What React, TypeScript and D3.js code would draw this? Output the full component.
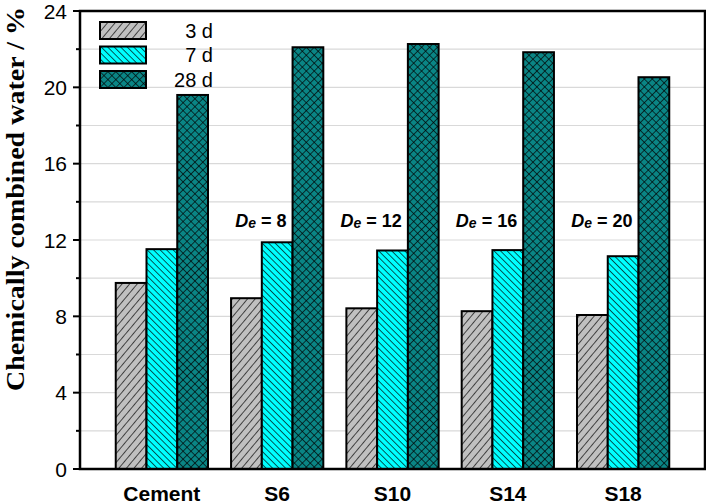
import * as d3 from "d3";

const categories = ["Cement", "S6", "S10", "S14", "S18"];
const seriesNames = ["3 d", "7 d", "28 d"];
const values3d = [9.75, 8.95, 8.42, 8.27, 8.07];
const values7d = [11.52, 11.88, 11.45, 11.47, 11.15];
const values28d = [19.6, 22.1, 22.27, 21.84, 20.53];
const deLabels = ["", "8", "12", "16", "20"];
const yMajorTicks = [0, 4, 8, 12, 16, 20, 24];
const yMinorTicks = [2, 6, 10, 14, 18, 22];
const gridValues = [2, 4, 6, 8, 10, 12, 14, 16, 18, 20, 22];

const W = 706;
const H = 504;
const margin = { top: 11, right: 1, bottom: 35, left: 80 };
const innerW = W - margin.left - margin.right;
const innerH = H - margin.top - margin.bottom;

const patternIds = ["hatch3", "hatch7", "hatch28"];

export default function App() {
  const allSeries = [values3d, values7d, values28d];

  const x = d3
    .scaleBand<string>()
    .domain(categories)
    .range([0, innerW])
    .paddingInner(0.2)
    .paddingOuter(0.31);

  const xSub = d3
    .scaleBand<string>()
    .domain(seriesNames)
    .range([0, x.bandwidth()]);

  const y = d3.scaleLinear().domain([0, 24]).range([innerH, 0]);

  const sans = "'Liberation Sans', Arial, sans-serif";

  return (
    <svg
      width={W}
      height={H}
      style={{ position: "absolute", left: 0, top: 0, background: "#fff" }}
    >
      <defs>
        <pattern
          id="hatch3"
          patternUnits="userSpaceOnUse"
          width={5.8}
          height={10}
          patternTransform="rotate(40)"
        >
          <rect width={5.8} height={10} fill="#c0c0c0" />
          <line x1={0} y1={0} x2={0} y2={10} stroke="#000" strokeWidth={1.3} />
        </pattern>
        <pattern
          id="hatch7"
          patternUnits="userSpaceOnUse"
          width={4.6}
          height={10}
          patternTransform="rotate(-45)"
        >
          <rect width={4.6} height={10} fill="#00ffff" />
          <line x1={0} y1={0} x2={0} y2={10} stroke="#000" strokeWidth={1.3} />
        </pattern>
        <pattern
          id="hatch28"
          patternUnits="userSpaceOnUse"
          width={5.6}
          height={5.6}
          patternTransform="rotate(45)"
        >
          <rect width={5.6} height={5.6} fill="#0a8585" />
          <line x1={0} y1={0} x2={0} y2={5.6} stroke="#000" strokeWidth={1.3} />
          <line x1={0} y1={0} x2={5.6} y2={0} stroke="#000" strokeWidth={1.3} />
        </pattern>
      </defs>

      <g transform={`translate(${margin.left},${margin.top})`}>
        {/* gridlines */}
        {gridValues.map(v => (
          <line
            key={"g" + v}
            x1={0}
            x2={innerW}
            y1={y(v)}
            y2={y(v)}
            stroke="#d9d9d9"
            strokeWidth={1.2}
          />
        ))}

        {/* bars */}
        {categories.map((c, i) => (
          <g key={c} transform={`translate(${x(c)},0)`}>
            {allSeries.map((vals, s) => (
              <rect
                key={s}
                x={xSub(seriesNames[s])}
                y={y(vals[i])}
                width={xSub.bandwidth()}
                height={innerH - y(vals[i])}
                fill={`url(#${patternIds[s]})`}
                stroke="#000"
                strokeWidth={2}
              />
            ))}
          </g>
        ))}

        {/* De annotations */}
        {categories.map((c, i) =>
          deLabels[i] ? (
            <text
              key={"de" + c}
              x={(x(c) ?? 0) + (xSub("28 d") ?? 0) - 6}
              y={y(12) - 13}
              textAnchor="end"
              fontFamily={sans}
              fontWeight="bold"
              fontSize={18}
            >
              <tspan fontStyle="italic">D</tspan>
              <tspan fontStyle="italic" fontSize={14} dy={1}>
                e
              </tspan>
              <tspan dy={-1}>{` = ${deLabels[i]}`}</tspan>
            </text>
          ) : null
        )}

        {/* frame */}
        <rect
          x={0}
          y={0}
          width={innerW}
          height={innerH}
          fill="none"
          stroke="#000"
          strokeWidth={2.5}
        />

        {/* y ticks */}
        {yMajorTicks.map(v => (
          <g key={"t" + v}>
            <line x1={-7} x2={0} y1={y(v)} y2={y(v)} stroke="#000" strokeWidth={2} />
            <text
              x={-13}
              y={y(v)}
              dy="0.36em"
              textAnchor="end"
              fontFamily={sans}
              fontSize={21}
            >
              {v}
            </text>
          </g>
        ))}
        {yMinorTicks.map(v => (
          <line key={"m" + v} x1={-4} x2={0} y1={y(v)} y2={y(v)} stroke="#000" strokeWidth={2} />
        ))}

        {/* x labels */}
        {categories.map(c => (
          <text
            key={"x" + c}
            x={(x(c) ?? 0) + x.bandwidth() / 2}
            y={innerH + 32}
            textAnchor="middle"
            fontFamily={sans}
            fontWeight="bold"
            fontSize={21}
          >
            {c}
          </text>
        ))}

        {/* legend */}
        {seriesNames.map((s, i) => (
          <g key={"l" + s} transform={`translate(20,${11 + i * 24.5})`}>
            <rect
              x={0}
              y={0}
              width={46}
              height={17}
              fill={`url(#${patternIds[i]})`}
              stroke="#000"
              strokeWidth={2}
            />
            <text
              x={113}
              y={8.5}
              dy="0.36em"
              textAnchor="end"
              fontFamily={sans}
              fontSize={20}
            >
              {s}
            </text>
          </g>
        ))}
      </g>

      {/* y title */}
      <text
        transform={`translate(24,199) rotate(-90)`}
        textAnchor="middle"
        fontFamily="'Liberation Serif', 'Times New Roman', serif"
        fontWeight="bold"
        fontSize={25}
        textLength={384}
        lengthAdjust="spacingAndGlyphs"
      >
        Chemically combined water / %
      </text>
    </svg>
  );
}
